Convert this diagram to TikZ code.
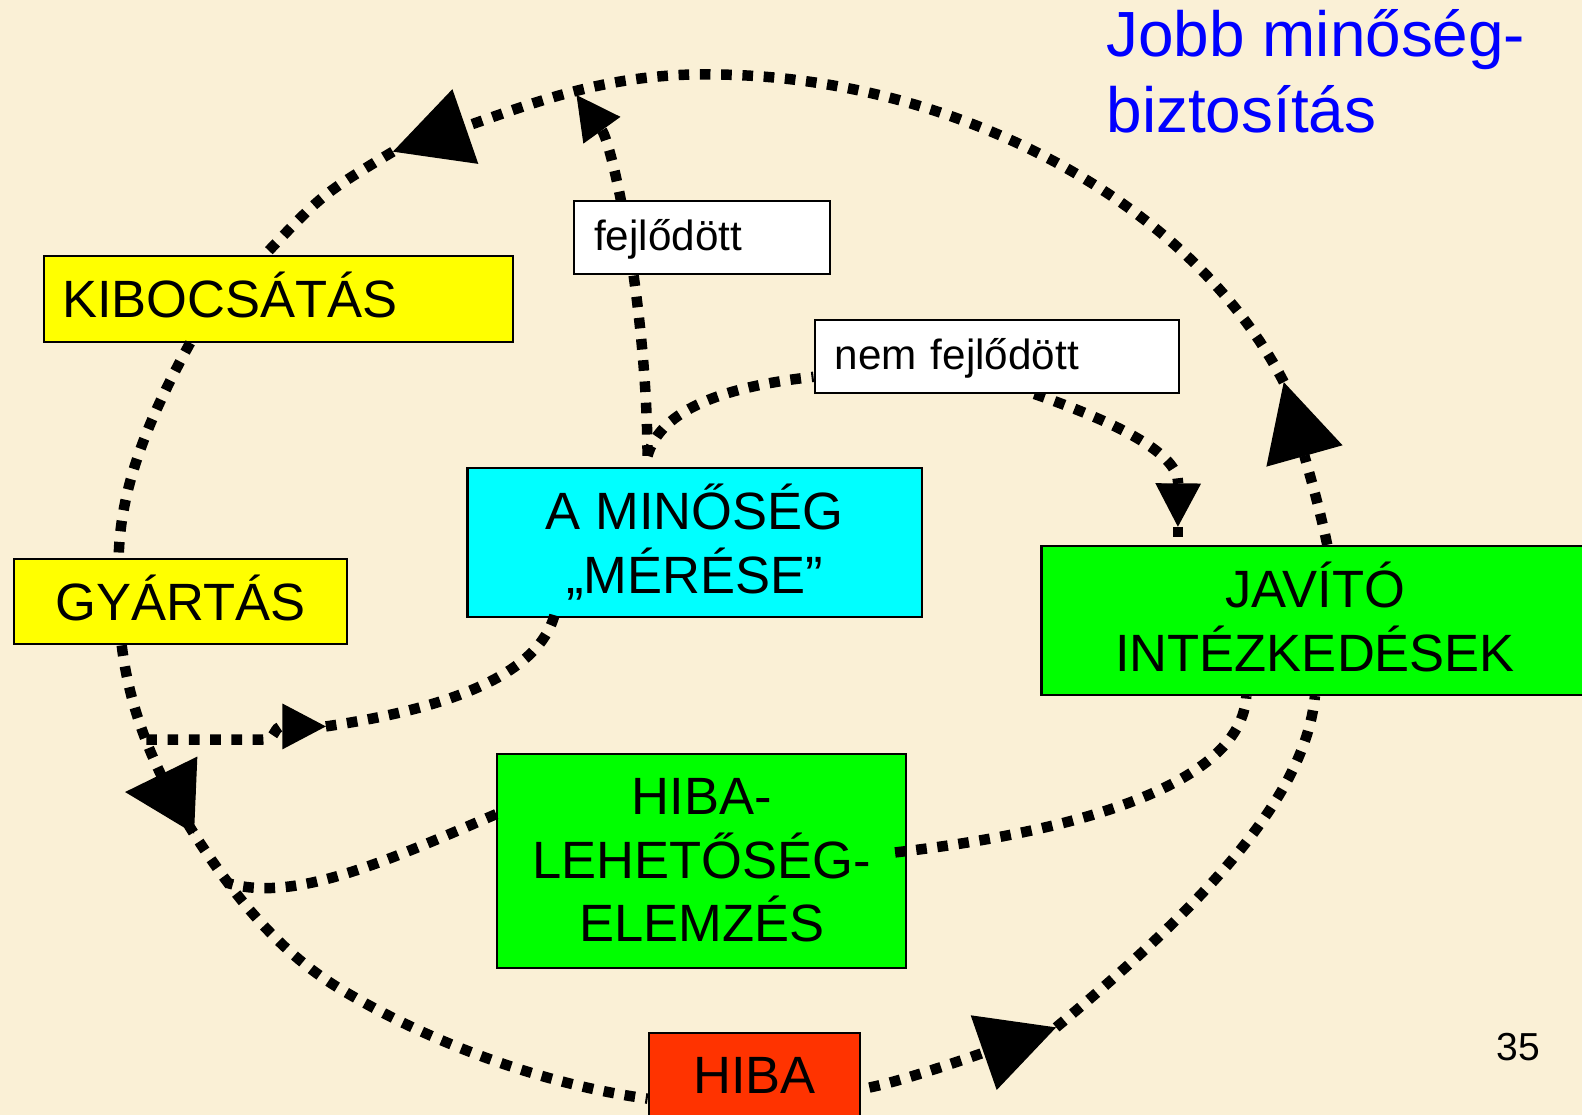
\documentclass[tikz,border=0pt]{standalone}
\usepackage{fontspec}
\setmainfont{Liberation Sans}
\usetikzlibrary{arrows.meta,calc}

\definecolor{parchment}{RGB}{250,240,214}
\definecolor{boxyellow}{RGB}{255,255,0}
\definecolor{boxcyan}{RGB}{0,255,255}
\definecolor{boxgreen}{RGB}{0,255,0}
\definecolor{boxred}{RGB}{255,51,0}
\definecolor{titleblue}{RGB}{0,0,255}

\pgfdeclarelayer{labels}
\pgfsetlayers{main,labels}

\tikzset{
  box/.style={draw=black, line width=0.6pt, inner sep=0pt, align=center,
    font=\fontsize{14.8pt}{17.9pt}\selectfont},
  twoline/.style={text height=28.6pt, text depth=0pt},
  tag/.style={draw=black, line width=0.6pt, fill=white, inner xsep=0.2cm,
    inner ysep=0pt, align=left, text height=8.9pt, text depth=1.5pt,
    font=\fontsize{11.9pt}{14pt}\selectfont},
  flow/.style={line width=2.95pt, dash pattern=on 3pt off 3pt},
  bigtip/.style={-{Triangle[length=7.6mm,width=7.8mm,line width=0.4pt]}},
  lefttip/.style={line width=0.4pt,-{Triangle[length=7mm,width=7.6mm,line width=0.4pt]}},
  smalltip/.style={-{Triangle[length=4.3mm,width=4.5mm,line width=0.4pt]}},
}

\begin{document}
\begin{tikzpicture}[x=0.01cm,y=-0.01cm]
\useasboundingbox (0,0) rectangle (1568,1105);
\fill[parchment] (0,0) rectangle (1568,1105);
\clip (0,0) rectangle (1568,1105);

% process boxes
\node[box, fill=boxyellow, align=left, text width=4.29cm, inner xsep=0.18cm,
      minimum height=0.85cm, text height=10.6pt, text depth=0pt]
  (kib) at (276.2,296.2) {KIBOCSÁTÁS};
\node[box, fill=boxyellow, minimum width=3.30cm, minimum height=0.847cm,
      text height=10.6pt, text depth=0pt]
  (gyar) at (178.8,596.2) {GYÁRTÁS};
\node[box, fill=boxcyan, minimum width=4.50cm, minimum height=1.48cm, twoline]
  (mer) at (688.5,537.9) {A MINŐSÉG\\„MÉRÉSE”};
\node[box, fill=boxgreen, minimum width=5.42cm, minimum height=1.477cm, twoline]
  (jav) at (1303.5,614.9) {JAVÍTÓ\\INTÉZKEDÉSEK};
\node[box, fill=boxgreen, minimum width=4.05cm, minimum height=2.12cm]
  (hle) at (695.5,853) {HIBA-\\LEHETŐSÉG-\\ELEMZÉS};
\node[box, fill=boxred, minimum width=2.095cm, minimum height=0.84cm]
  (hiba) at (747.8,1066) {HIBA};

% title and page number
\node[anchor=north west, inner sep=0pt, align=left, text=titleblue,
      font=\fontsize{18pt}{21.3pt}\selectfont]
  (title) at (1096,9) {Jobb minőség-\\biztosítás};
\node[anchor=base west, inner sep=0pt, font=\fontsize{11pt}{13pt}\selectfont]
  (page) at (1483,1051.4) {35};

% decision labels sit above the flow lines
\begin{pgfonlayer}{labels}
\node[tag, text width=2.14cm, minimum height=0.72cm]
  (fej) at (696,235.3) {fejlődött};
\node[tag, text width=3.21cm, minimum height=0.726cm]
  (nem) at (988,353.1) {nem fejlődött};
\end{pgfonlayer}

% arrow tips and junctions
\coordinate (tA1) at (389.4,150.3);
\coordinate (tA2) at (1272.4,378.7);
\coordinate (tA3) at (571.4,94.2);
\coordinate (tA4) at (1167.5,522.1);
\coordinate (tA5) at (323,720);
\coordinate (tA6) at (124,785);
\coordinate (bA6) at (194,788);
\coordinate (tA7) at (1046.8,1018.3);
\coordinate (fork) at (145,733);
\coordinate (merge) at (225,875);
\coordinate (mtop) at ($(mer.north west)+(179.5,-11)$);

% improvement loop over the top
\draw[flow,bigtip] ($(jav.north)+(12,0)$) .. controls (1307,500) and (1298,470) .. (tA2);
\draw[flow,bigtip] (tA2) .. controls (1180,200) and (950,80) .. (720,74)
  .. controls (610,70) and (536,99.5) .. (tA1);
\draw[flow] (tA1) .. controls (320,192) .. ($(kib.north west)+(220,0)$);

% measurement outcomes
\draw[flow,smalltip] (mtop) .. controls (641,300) and (607,143.5) .. (tA3);
\draw[flow] (mtop) .. controls (655,405) and (720,383) .. ($(nem.south west)+(0,-17)$);
\draw[flow,smalltip] ($(nem.south west)+(219,0)$) .. controls (1110,420) and (1168,450) .. (tA4);
\draw[flow] (tA4) -- (tA4 |- jav.north);

% release to production
\draw[flow] ($(kib.south west)+(146,0)$) .. controls (150,410) and (119,480)
  .. ($(gyar.north west)+(105,0)$);

% production down to defect
\draw[flow] ($(gyar.south west)+(108,0)$) .. controls (128,700) and (150,760) .. (194,829)
  .. controls (240,900) and (285,950) .. (342,983)
  .. controls (430,1035) and (540,1075) .. ($(hiba.north west)+(0,66)$);

% production to measurement
\draw[flow,smalltip] (fork) -- (260,733) .. controls (275,733) and (270,720) .. (tA5);
\draw[flow] (tA5) .. controls (445,702) and (540,668) .. ($(mer.south west)+(89,-11)$);

% failure analysis feeds back
\draw[flow] ($(hle.north west)+(0,61)$) .. controls (380,855) and (290,895) .. (merge);
\draw[lefttip] (bA6) -- (tA6);

% corrective actions
\draw[flow] ($(hle.north east)+(-12,99)$) .. controls (1060,825) and (1230,780)
  .. ($(jav.south west)+(204,0)$);
\draw[flow,bigtip] ($(hiba.north east)+(8,55)$) .. controls (900,1070) and (973,1044) .. (tA7);
\draw[flow] (tA7) .. controls (1170,915) and (1293,800) .. ($(jav.south west)+(272,0)$);
\end{tikzpicture}
\end{document}
